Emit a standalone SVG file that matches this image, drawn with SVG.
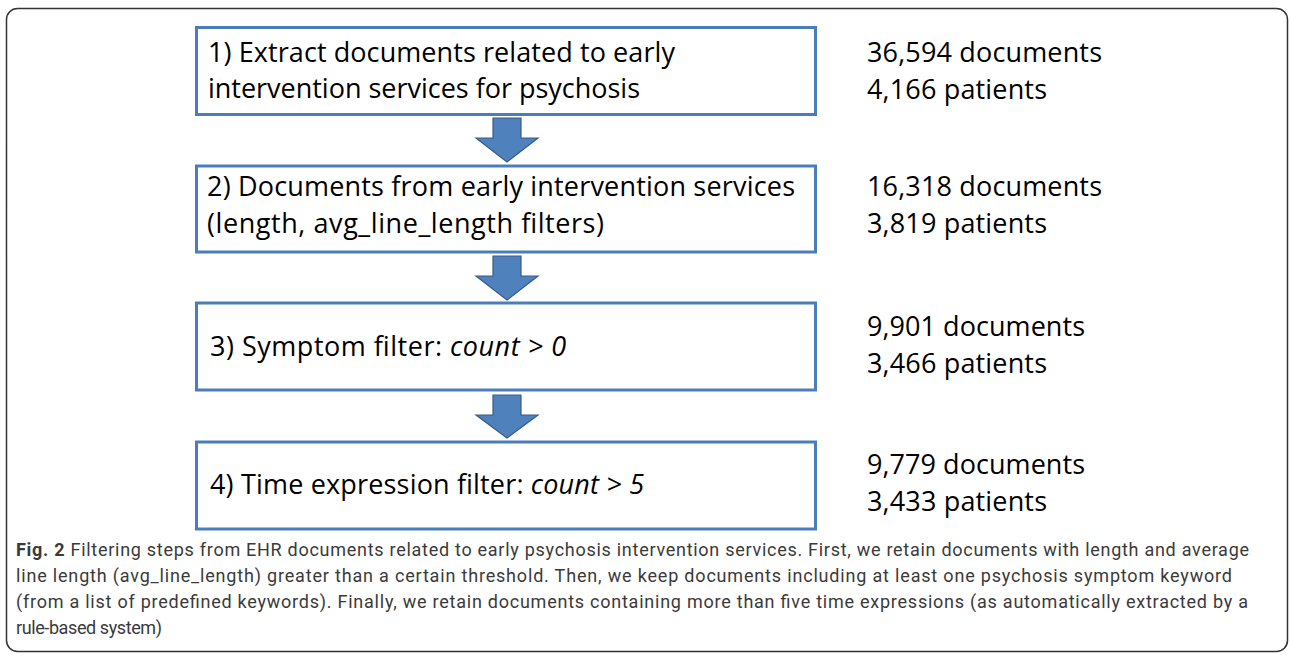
<svg xmlns="http://www.w3.org/2000/svg" width="1290" height="655" viewBox="0 0 1290 655">
<style>
.box{fill:#fff;stroke:#4a7ebb;stroke-width:3}
.arr{fill:#4f81bd;stroke:#385d8a;stroke-width:1.2}
.t{font-family:"Open Sans","Liberation Sans",sans-serif;font-size:27px;fill:#000}
.cap{font-family:Roboto,"Open Sans",sans-serif;font-size:18px;fill:#3a3a3a}
.frame{fill:none;stroke:#333;stroke-width:1.5}
</style>
<rect width="1290" height="655" fill="#fff"/>
<rect class="frame" x="6.5" y="8.5" width="1281" height="643" rx="11"/>
<g id="node1">
<rect class="box" x="196.5" y="27.5" width="619" height="87"/>
<text class="t" x="208" y="62" textLength="467">1) Extract documents related to early</text>
<text class="t" x="208" y="98" textLength="432">intervention services for psychosis</text>
</g>
<g id="node2">
<rect class="box" x="196.5" y="166" width="619" height="86"/>
<text class="t" x="207" y="196" textLength="588">2) Documents from early intervention services</text>
<text class="t" x="207" y="233" textLength="397">(length, avg_line_length filters)</text>
</g>
<g id="node3">
<rect class="box" x="196.5" y="303" width="619" height="87"/>
<text class="t" x="210" y="356" textLength="356">3) Symptom filter: <tspan font-style="italic">count &gt; 0</tspan></text>
</g>
<g id="node4">
<rect class="box" x="196.5" y="442" width="619" height="87"/>
<text class="t" x="210" y="494" textLength="434">4) Time expression filter: <tspan font-style="italic">count &gt; 5</tspan></text>
</g>
<g id="connectors">
<path class="arr" d="M493,118 H521 V138 H538 L507,162 L476,138 H493 Z"/>
<path class="arr" d="M493,256 H521 V276 H538 L507,300 L476,276 H493 Z"/>
<path class="arr" d="M493,395 H521 V415 H538 L507,438 L476,415 H493 Z"/>
</g>
<g id="counts">
<text class="t" x="867" y="62" textLength="235">36,594 documents</text>
<text class="t" x="867" y="99" textLength="180">4,166 patients</text>
<text class="t" x="867" y="196" textLength="235">16,318 documents</text>
<text class="t" x="867" y="233" textLength="180">3,819 patients</text>
<text class="t" x="867" y="336" textLength="218">9,901 documents</text>
<text class="t" x="867" y="373" textLength="180">3,466 patients</text>
<text class="t" x="867" y="474" textLength="218">9,779 documents</text>
<text class="t" x="867" y="511" textLength="180">3,433 patients</text>
</g>
<g id="caption">
<text class="cap" x="16" y="556" textLength="1233"><tspan font-weight="bold">Fig. 2</tspan> Filtering steps from EHR documents related to early psychosis intervention services. First, we retain documents with length and average</text>
<text class="cap" x="16" y="582" textLength="1216">line length (avg_line_length) greater than a certain threshold. Then, we keep documents including at least one psychosis symptom keyword</text>
<text class="cap" x="16" y="608" textLength="1232">(from a list of predefined keywords). Finally, we retain documents containing more than five time expressions (as automatically extracted by a</text>
<text class="cap" x="16" y="634" textLength="146">rule-based system)</text>
</g>
</svg>
